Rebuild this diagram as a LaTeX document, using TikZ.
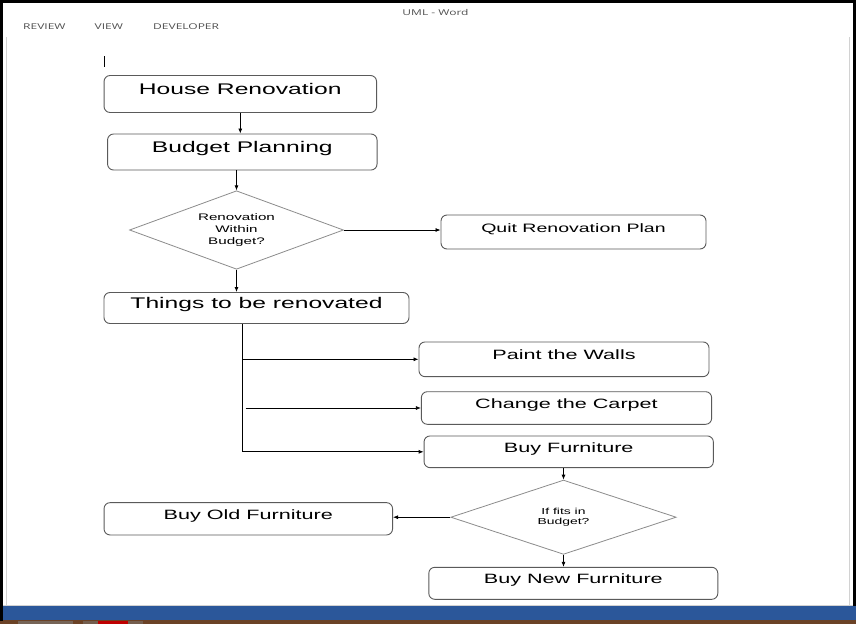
\documentclass[tikz,border=0pt]{standalone}
\usepackage{fontspec}
\setmainfont{Liberation Sans}
\newfontfamily\flowfont[FakeStretch=1.6]{Liberation Sans}
\newfontfamily\uifont[FakeStretch=1.5]{Open Sans}
\usetikzlibrary{shapes.geometric,arrows.meta}

\definecolor{wordblue}{HTML}{2B579A}
\definecolor{taskbar}{HTML}{6B4226}
\definecolor{boxline}{HTML}{5A5A5A}
\definecolor{decline}{HTML}{8C8C8C}
\definecolor{pageedge}{HTML}{D2D2D2}
\definecolor{uitext}{HTML}{505050}

\begin{document}
\begin{tikzpicture}[x=1pt,y=-1pt,
  % rounded process boxes; text depth lifts the label a little above centre
  stepbox/.style={draw=boxline, line width=0.9pt, rounded corners=6pt,
    inner sep=0pt},
  bigbox/.style={stepbox, font=\flowfont\fontsize{15.4}{18}\selectfont,
    text height=11pt, text depth=10pt},
  midbox/.style={stepbox, font=\flowfont\fontsize{13.5}{16}\selectfont,
    text height=9.7pt, text depth=9pt},
  decision/.style={shape=diamond, draw=decline, line width=0.8pt,
    inner sep=0pt, align=center},
  arr/.style={-{Latex[length=5pt,width=4pt]}, line width=0.8pt, black},
  uilabel/.style={font=\uifont\fontsize{8}{10}\selectfont, text=uitext,
    inner sep=0pt}
]
\useasboundingbox (0,0) rectangle (856,624);
\fill[white] (0,0) rectangle (856,624);

% window chrome
\draw[pageedge, line width=0.8pt] (6,37) -- (6,605);
\draw[pageedge, line width=0.8pt] (849.5,37) -- (849.5,605);
\draw[pageedge, line width=0.6pt] (3,605) -- (853,605);
\fill[wordblue] (0,605.5) rectangle (856,619.5);
\fill[taskbar] (0,619.5) rectangle (856,624);
\fill[gray!55!taskbar] (18,620.5) rectangle (73,624);
\fill[gray!45!taskbar] (83,620.5) rectangle (143,624);
\fill[red!75!black] (98,621.2) rectangle (128,624);
\draw[black, line width=2.6pt] (1.3,621) -- (1.3,1.3) -- (854.7,1.3) -- (854.7,606);

\node[uilabel] (title) at (435.5,12) {UML - Word};
\node[uilabel, anchor=west] (tabreview) at (23,26.5) {REVIEW};
\node[uilabel, anchor=west] (tabview) at (94.5,26.5) {VIEW};
\node[uilabel, anchor=west] (tabdev) at (153,26.5) {DEVELOPER};

% text cursor
\draw[line width=0.8pt] (104.5,56) -- (104.5,66.5);

% flowchart
\node[bigbox, minimum width=272.5pt, minimum height=37pt] (hr) at (240.3,94) {House Renovation};
\node[bigbox, minimum width=269.5pt, minimum height=36pt] (bp) at (242.3,152) {Budget Planning};
\node[decision, minimum width=214pt, minimum height=78.5pt, aspect=2.7,
  font=\flowfont\fontsize{9.5}{11.7}\selectfont] (d1) at (236.5,230) {Renovation\\Within\\Budget?};
\node[midbox, minimum width=265pt, minimum height=34pt,
  font=\flowfont\fontsize{12.2}{15}\selectfont] (qr) at (573.5,232) {Quit Renovation Plan};
\node[bigbox, minimum width=305pt, minimum height=31pt] (tr) at (256.5,308) {Things to be renovated};
\node[midbox, minimum width=290pt, minimum height=34.7pt] (pw) at (564,359.3) {Paint the Walls};
\node[midbox, minimum width=290.3pt, minimum height=32.6pt] (cc) at (566.5,408) {Change the Carpet};
\node[midbox, minimum width=289.3pt, minimum height=31.7pt] (bf) at (568.7,451.8) {Buy Furniture};
\node[decision, minimum width=225.4pt, minimum height=74.3pt, aspect=3,
  font=\flowfont\fontsize{8.7}{10}\selectfont] (d2) at (563.5,517.2) {If fits in\\Budget?};
\node[midbox, minimum width=288.5pt, minimum height=32.3pt] (bo) at (248.3,518.8) {Buy Old Furniture};
\node[midbox, minimum width=289pt, minimum height=32pt] (bn) at (573.3,583.3) {Buy New Furniture};

% connectors
\draw[arr] (hr.south) -- (hr.south |- bp.north);
\draw[arr] (bp.south -| d1.north) -- (d1.north);
\draw[arr] (d1.east) -- (d1.east -| qr.west);
\draw[arr] (d1.south) -- (d1.south |- tr.north);
\path (tr.south west) ++(138.7,0) coordinate (trunk);
\path (trunk |- cc.west) ++(3.3,0) coordinate (ccstart);
\draw[arr] (trunk) |- (bf.west);
\draw[arr] (trunk |- pw.west) -- (pw.west);
\draw[arr] (ccstart) -- (cc.west);
\draw[arr] (bf.south -| d2.north) -- (d2.north);
\draw[arr] (d2.west) -- (d2.west -| bo.east);
\draw[arr] (d2.south) -- (d2.south |- bn.north);
\end{tikzpicture}
\end{document}
